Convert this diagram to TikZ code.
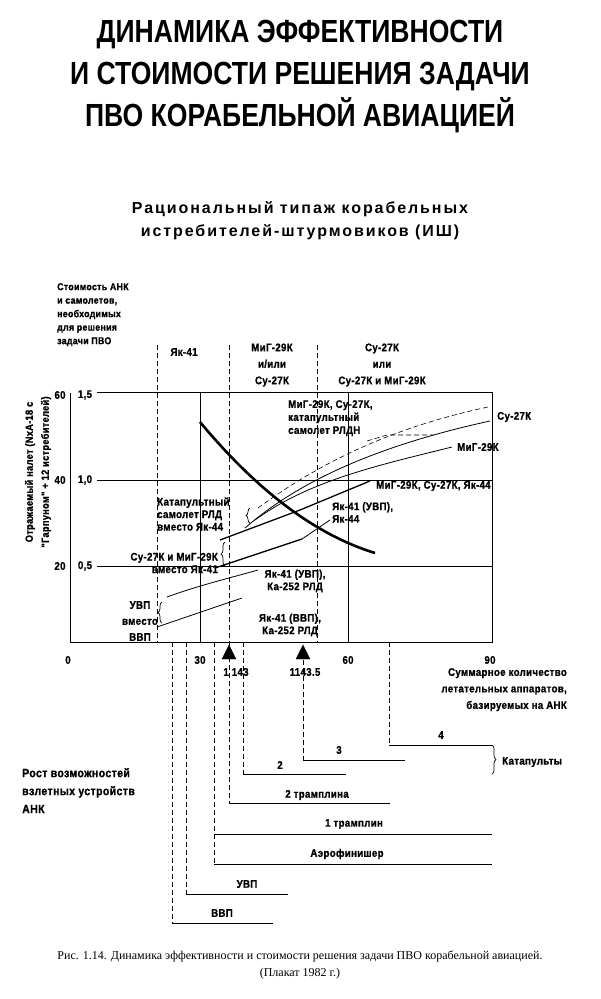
\documentclass[tikz,border=0pt]{standalone}
\usepackage{fontspec}
\setmainfont{Liberation Sans}
\newfontfamily\cf[FakeStretch=0.88,LetterSpace=3,FakeBold=1]{Liberation Sans}
\newfontfamily\spacedsans[LetterSpace=12]{Liberation Sans}
\newfontfamily\serifcap{Liberation Serif}
\usetikzlibrary{decorations.pathreplacing}
\begin{document}
\begin{tikzpicture}[x=1pt,y=-1pt,
 lbl/.style={font=\cf\bfseries\fontsize{11}{12.5}\selectfont,inner sep=0pt,align=center},
 lbll/.style={lbl,align=left,anchor=west},
 grid/.style={line width=0.9pt},
 dsh/.style={dashed,dash pattern=on 5pt off 3pt,line width=0.6pt},
 thick1/.style={line width=2.6pt},
 mid1/.style={line width=1.3pt},
 thin1/.style={line width=0.8pt},
 br/.style={decorate,decoration={brace,amplitude=4pt},line width=0.7pt},
 tri/.style={fill=black,draw=black}]
\useasboundingbox (0,0) rectangle (600,999);
% titles
\node[font=\bfseries\fontsize{32}{42}\selectfont,align=center,inner sep=0pt] (title) at (300,77)
 {\scalebox{0.83}[1]{ДИНАМИКА ЭФФЕКТИВНОСТИ}\\\scalebox{0.83}[1]{И СТОИМОСТИ РЕШЕНИЯ ЗАДАЧИ}\\\scalebox{0.83}[1]{ПВО КОРАБЕЛЬНОЙ АВИАЦИЕЙ}};
\node[font=\spacedsans\bfseries\fontsize{16}{23}\selectfont,align=center,inner sep=0pt] (sub) at (300,221)
 {Рациональный типаж корабельных\\истребителей-штурмовиков (ИШ)};
\node[lbl,align=left,anchor=north west,font=\cf\bfseries\fontsize{10}{13.5}\selectfont] (ylab1) at (57,283) {Стоимость АНК\\и самолетов,\\необходимых\\для решения\\задачи ПВО};
\node[lbl,rotate=90,font=\cf\bfseries\fontsize{10.5}{16}\selectfont] (ylab2) at (38,472) {Отражаемый налет (NхА-18 с\\"Гарпуном" + 12 истребителей)};
% axes and grid
\draw[grid] (70,393) -- (70,642) -- (492,642) -- (492,392) -- (97,392);
\draw[grid] (97,480) -- (492,480);
\draw[grid] (97,566) -- (492,566);
\draw[grid] (200,392) -- (200,642);
\draw[grid] (348,392) -- (348,642);
\foreach \y/\a/\b in {395/60/{1,5}, 480/40/{1,0}, 566/20/{0,5}}{
 \node[lbl] at (60,\y) {\a}; \node[lbl] at (85,\y) {\b};}
\foreach \x/\t in {68/0,200/30,348/60,490/90} \node[lbl] at (\x,660) {\t};
\node[lbl,align=right,anchor=north east,font=\cf\bfseries\fontsize{11}{16.5}\selectfont] (xlab) at (567,668) {Суммарное количество\\летательных аппаратов,\\базируемых на АНК};
% dashed verticals in plot
\draw[dsh] (157,345) -- (157,642);
\draw[dsh] (229,345) -- (229,803);
\draw[dsh] (317,345) -- (317,642);
\node[lbl] (yak41) at (184,352) {Як-41};
\node[lbl,font=\cf\bfseries\fontsize{11}{16.5}\selectfont] (mig) at (272,365) {МиГ-29К\\и/или\\Су-27К};
\node[lbl,font=\cf\bfseries\fontsize{11}{16.5}\selectfont] (su) at (382,365) {Су-27К\\или\\Су-27К и МиГ-29К};
% curves
\draw[thick1] (200,422) .. controls (240,470) and (300,530) .. (375,553);
\draw[mid1] (220,540) -- (300,510) -- (370,481);
\node[lbll] (l1) at (376,486) {МиГ-29К, Су-27К, Як-44};
\draw[thin1] (245,528) .. controls (300,480) and (380,445) .. (490,421);
\node[lbll] (l2) at (497,417) {Су-27К};
\draw[thin1] (255,520) .. controls (310,480) and (380,465) .. (452,447);
\node[lbll] (l3) at (457,447) {МиГ-29К};
\draw[dsh] (258,508) .. controls (310,470) and (380,430) .. (488,407);
\draw[dsh] (367,441) -- (387,435) -- (433,435);
\node[lbll,align=left,anchor=north west,font=\cf\bfseries\fontsize{11}{13}\selectfont] (l4) at (288,400) {МиГ-29К, Су-27К,\\катапультный\\самолет РЛДН};
\draw[mid1] (215,568) -- (302,539);
\draw[thin1] (302,539) -- (330,520);
\node[lbll,align=left,anchor=north west] (l5) at (332,502) {Як-41 (УВП),\\Як-44};
\draw[thin1] (167,597) .. controls (200,585) and (230,578) .. (258,570);
\node[lbl] (l6) at (295,581) {Як-41 (УВП),\\Ка-252 РЛД};
\draw[thin1] (157,627) -- (242,598);
\node[lbl] (l7) at (290,625) {Як-41 (ВВП),\\Ка-252 РЛД};
% braces
\draw[br] (162,623) -- (162,602);
\node[lbl,font=\cf\bfseries\fontsize{11}{16}\selectfont] (b1) at (140,621) {УВП\\вместо\\ВВП};
\draw[br] (225,566) -- (225,542);
\node[lbl,align=right,anchor=east] (b2) at (218,563) {Су-27К и МиГ-29К\\вместо Як-41};
\draw[br] (250,523) -- (250,508);
\node[lbl,align=left,anchor=west] (b3) at (157,514) {Катапультный\\самолет РЛД\\вместо Як-44};
% triangles
\draw[tri] (229,645) -- (222,659) -- (236,659) -- cycle;
\draw[tri] (303,645) -- (296,659) -- (310,659) -- cycle;
\node[lbl] (t1) at (236,672) {1 143};
\node[lbl] (t2) at (305,672) {1143.5};
% launch devices
\draw[dsh] (172,642) -- (172,923);
\draw[dsh] (186,642) -- (186,894);
\draw[dsh] (214,642) -- (214,864);
\draw[dsh] (243,642) -- (243,774);
\draw[dsh] (303,660) -- (303,760);
\draw[dsh] (389,642) -- (389,745);
\draw[thin1] (172,923) -- (273,923);
\draw[thin1] (186,894) -- (288,894);
\draw[thin1] (214,864) -- (492,864);
\draw[thin1] (214,834) -- (492,834);
\draw[thin1] (229,803) -- (390,803);
\draw[thin1] (243,774) -- (346,774);
\draw[thin1] (303,760) -- (405,760);
\draw[thin1] (389,745) -- (492,745);
\node[lbl] at (222,913) {ВВП};
\node[lbl] at (247,884) {УВП};
\node[lbl] at (347,854) {Аэрофинишер};
\node[lbl] at (354,824) {1 трамплин};
\node[lbl] at (317,795) {2 трамплина};
\node[lbl] at (280,765) {2};
\node[lbl] at (339,750) {3};
\node[lbl] at (441,735) {4};
\draw[br] (492,745) -- (492,774);
\node[lbll] (kat) at (502,762) {Катапульты};
\node[lbll,align=left,anchor=north west,font=\cf\bfseries\fontsize{12}{18}\selectfont] (rost) at (22,768) {Рост возможностей\\взлетных устройств\\АНК};
\node[font=\serifcap\fontsize{12}{17}\selectfont,align=center,inner sep=0pt] (cap) at (300,965)
 {Рис. 1.14. Динамика эффективности и стоимости решения задачи ПВО корабельной авиацией.\\(Плакат 1982 г.)};
\end{tikzpicture}
\end{document}
